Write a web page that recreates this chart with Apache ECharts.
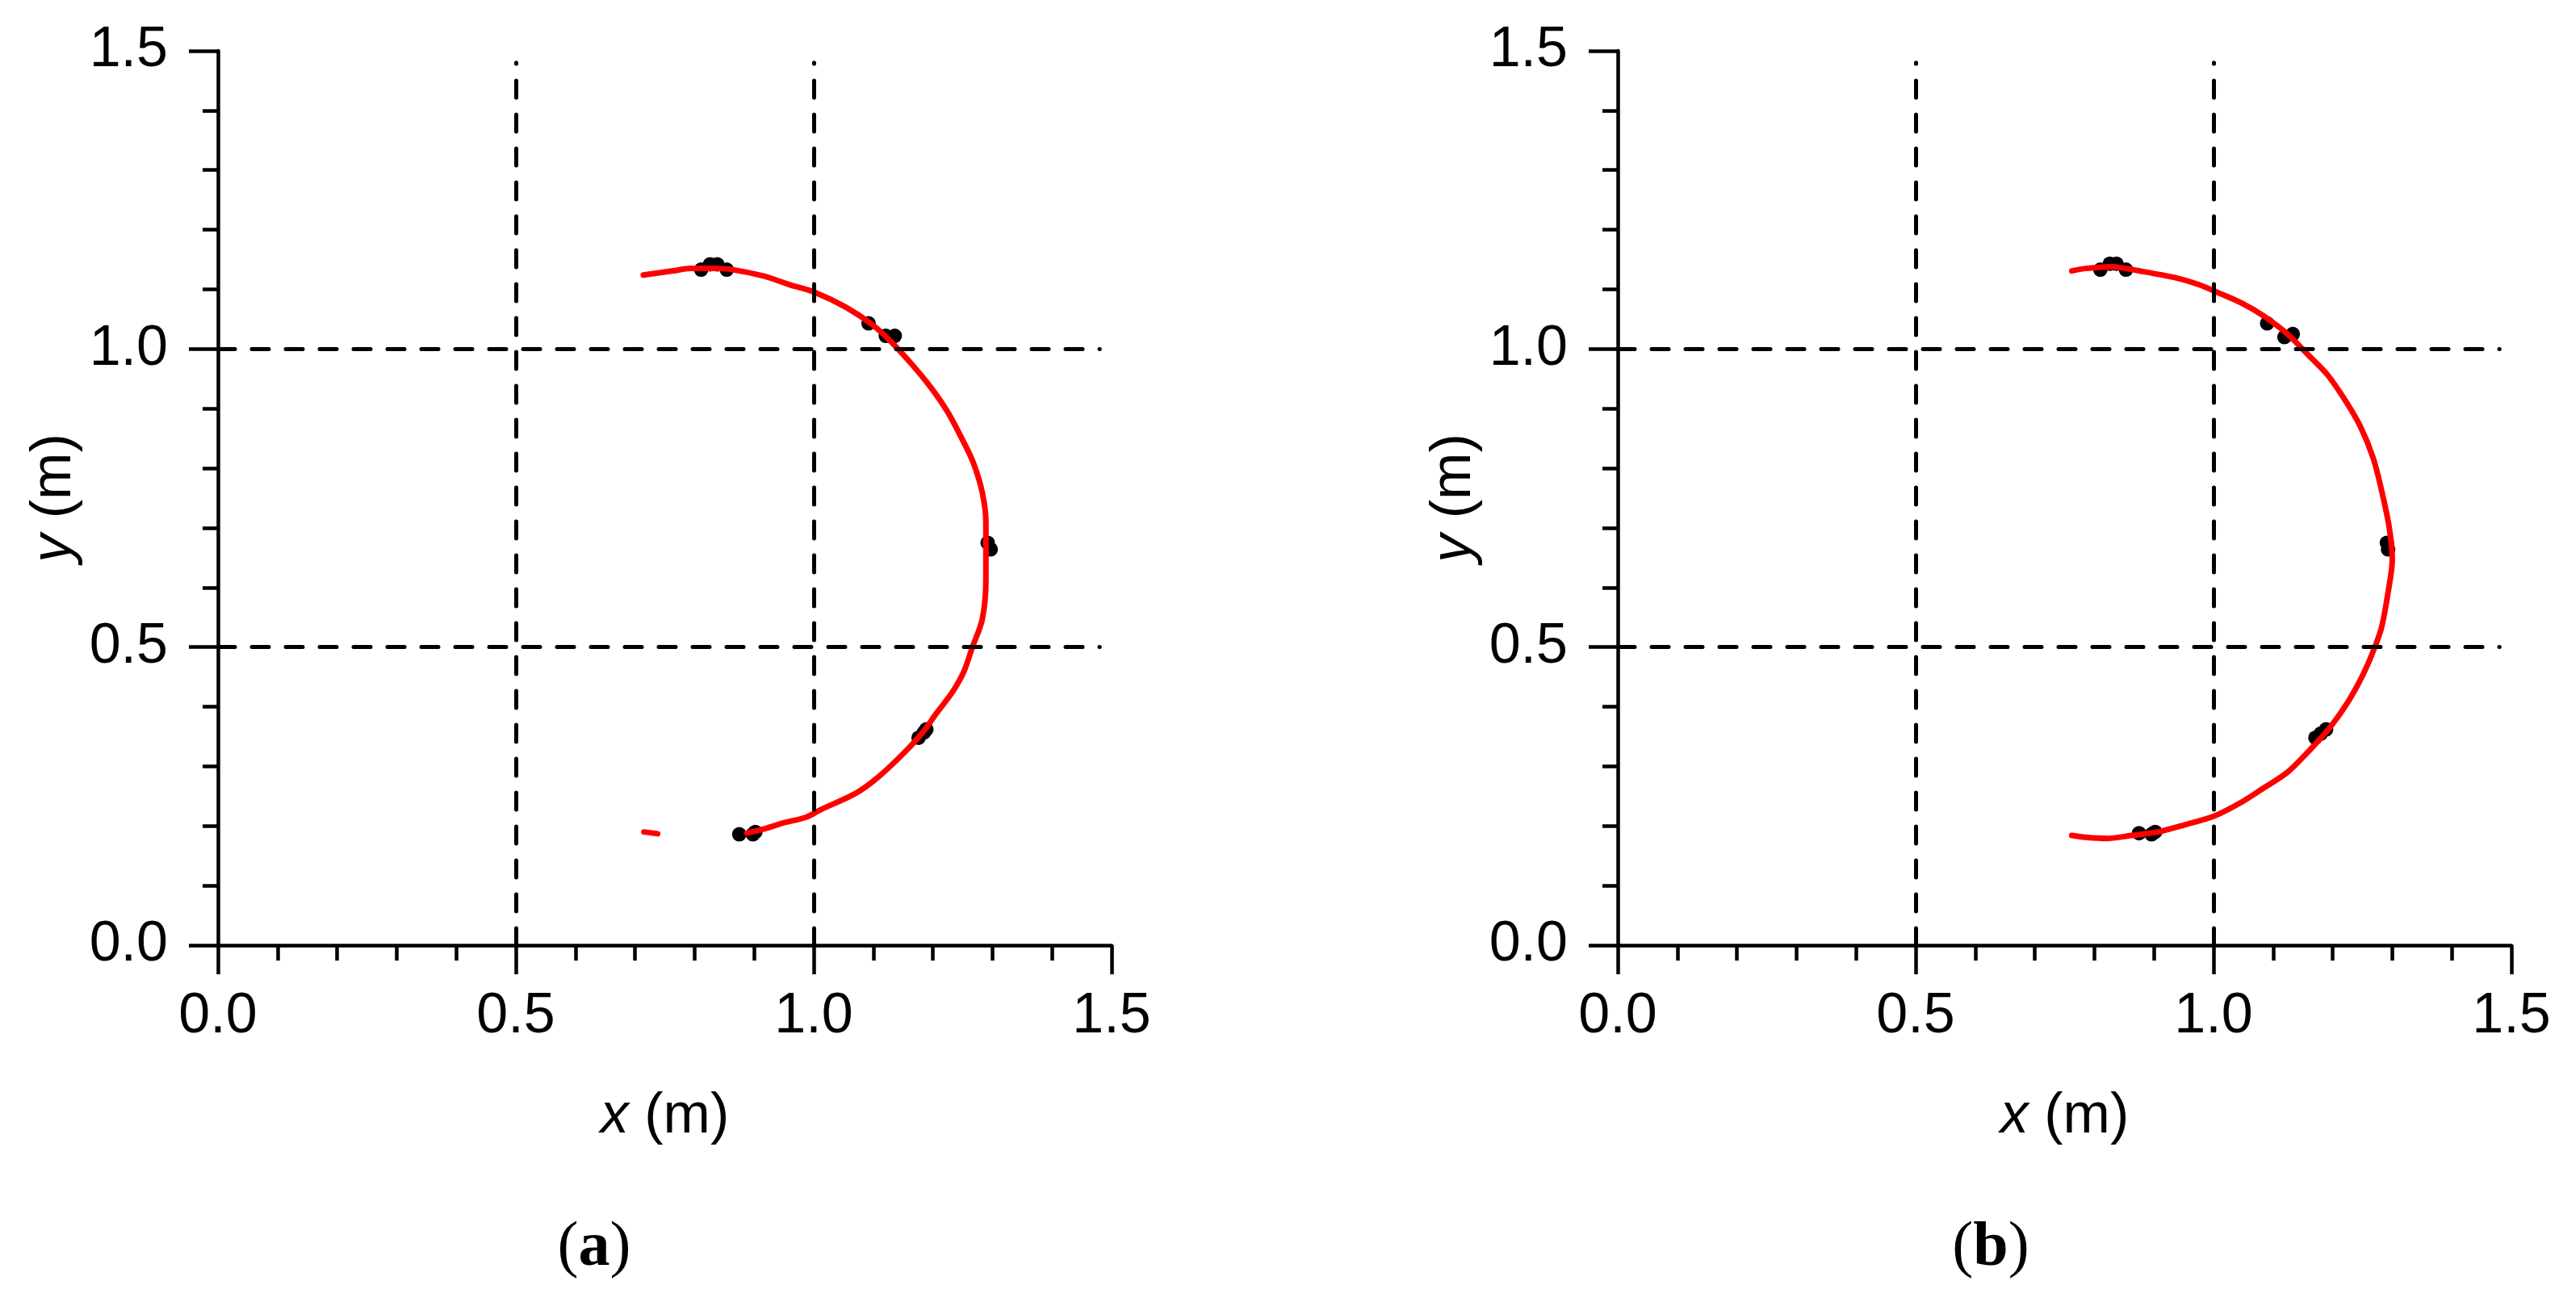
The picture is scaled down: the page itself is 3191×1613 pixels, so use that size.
<!DOCTYPE html>
<html>
<head>
<meta charset="utf-8">
<script src="https://cdn.jsdelivr.net/npm/echarts@6/dist/echarts.min.js"></script>
<style>
  html, body { margin: 0; padding: 0; background: #fff; }
  #main { width: 3191px; height: 1613px; }
</style>
</head>
<body>
<div id="main"></div>
<script>
// panel (a): tracked path, a short stray piece, measured points
const pathA = [
    [0.714, 1.124], [0.764, 1.131], [0.793, 1.135], [0.831, 1.135], [0.864, 1.133],
    [0.917, 1.122], [0.959, 1.108], [1.002, 1.095], [1.054, 1.070], [1.098, 1.041],
    [1.130, 1.012], [1.164, 0.975], [1.197, 0.935], [1.225, 0.894], [1.249, 0.849],
    [1.268, 0.809], [1.283, 0.759], [1.289, 0.709], [1.289, 0.614], [1.283, 0.547],
    [1.266, 0.499], [1.252, 0.459], [1.233, 0.425], [1.206, 0.389], [1.183, 0.357],
    [1.150, 0.321], [1.107, 0.281], [1.069, 0.254], [1.011, 0.227], [0.988, 0.215],
    [0.945, 0.204], [0.917, 0.195], [0.888, 0.188]
];
const tailA = [[0.715, 0.190], [0.738, 0.187]];
const pointsA = [
    [0.811, 1.133], [0.826, 1.142], [0.838, 1.142], [0.854, 1.133],
    [1.092, 1.043], [1.121, 1.022], [1.136, 1.022],
    [1.292, 0.675], [1.297, 0.664],
    [1.176, 0.348], [1.185, 0.357], [1.189, 0.362],
    [0.875, 0.186], [0.898, 0.186], [0.902, 0.190]
];

// panel (b)
const pathB = [
    [0.762, 1.131], [0.785, 1.135], [0.830, 1.138], [0.875, 1.131], [0.934, 1.120],
    [0.975, 1.108], [1.011, 1.093], [1.047, 1.077], [1.083, 1.056], [1.124, 1.025],
    [1.160, 0.989], [1.191, 0.957], [1.219, 0.917], [1.246, 0.871], [1.268, 0.817],
    [1.282, 0.763], [1.295, 0.700], [1.300, 0.646], [1.293, 0.592], [1.282, 0.533],
    [1.268, 0.493], [1.250, 0.452], [1.225, 0.407], [1.196, 0.366], [1.164, 0.330],
    [1.124, 0.290], [1.083, 0.263], [1.047, 0.240], [1.002, 0.217], [0.952, 0.202],
    [0.907, 0.190], [0.862, 0.184], [0.821, 0.179], [0.785, 0.181], [0.762, 0.184]
];
const pointsB = [
    [0.810, 1.133], [0.826, 1.143], [0.837, 1.143], [0.853, 1.133],
    [1.090, 1.043], [1.119, 1.020], [1.133, 1.025],
    [1.291, 0.675], [1.293, 0.664],
    [1.171, 0.348], [1.180, 0.355], [1.189, 0.362],
    [0.875, 0.188], [0.896, 0.186], [0.902, 0.190]
];

const tickValues = [0.0, 0.5, 1.0, 1.5];
const guideValues = [0.5, 1.0];
const guideEnd = 1.48;
const panelLabels = ['a', 'b'];

const FONT = 'Liberation Sans, Arial, sans-serif';
const chart = echarts.init(document.getElementById('main'));

function makeAxis(i, isX) {
    return {
        type: 'value',
        gridIndex: i,
        min: tickValues[0],
        max: tickValues[tickValues.length - 1],
        interval: 0.5,
        name: isX ? '{i|x} (m)' : '{i|y} (m)',
        nameLocation: 'middle',
        nameGap: isX ? 178 : 167,
        nameTextStyle: {
            fontFamily: FONT, fontSize: 70, color: '#000',
            rich: { i: { fontFamily: FONT, fontSize: 70, fontStyle: 'italic', color: '#000' } }
        },
        axisLine: { lineStyle: { color: '#000', width: 4.5 } },
        axisTick: { length: 36, lineStyle: { color: '#000', width: 4.5 } },
        minorTick: { show: true, splitNumber: 5, length: 19, lineStyle: { color: '#000', width: 4.5 } },
        splitLine: { show: false },
        axisLabel: {
            fontFamily: FONT, fontSize: 70, color: '#000',
            margin: isX ? 54 : 62,
            formatter: v => v.toFixed(1)
        }
    };
}

function guideLines() {
    const d = [];
    guideValues.forEach(v => {
        d.push([{ coord: [v, 0] }, { coord: [v, guideEnd] }]);
        d.push([{ coord: [0, v] }, { coord: [guideEnd, v] }]);
    });
    return d;
}

function panelSeries(i, path, points, tail) {
    const s = [
        {
            type: 'scatter', xAxisIndex: i, yAxisIndex: i, data: points,
            symbolSize: 18, itemStyle: { color: '#000', opacity: 1 }, z: 2,
            markLine: {
                silent: true, symbol: 'none', label: { show: false },
                lineStyle: { color: '#000', width: 5, type: [21, 21], cap: 'round', opacity: 1 },
                data: guideLines()
            }
        },
        {
            type: 'line', xAxisIndex: i, yAxisIndex: i, data: path,
            showSymbol: false, smooth: 0.3, z: 3,
            lineStyle: { color: '#ff0000', width: 7, cap: 'round' }
        }
    ];
    if (tail) {
        s.push({
            type: 'line', xAxisIndex: i, yAxisIndex: i, data: tail,
            showSymbol: false, z: 3,
            lineStyle: { color: '#ff0000', width: 7, cap: 'round' }
        });
    }
    return s;
}

const option = {
    animation: false,
    backgroundColor: '#fff',
    grid: [
        { left: 270, top: 63, width: 1107, height: 1108 },
        { left: 2004, top: 63, width: 1107, height: 1108 }
    ],
    xAxis: [makeAxis(0, true), makeAxis(1, true)],
    yAxis: [makeAxis(0, false), makeAxis(1, false)],
    series: [].concat(panelSeries(0, pathA, pointsA, tailA), panelSeries(1, pathB, pointsB, null)),
    graphic: panelLabels.map((t, i) => ({
        type: 'text',
        x: 736 + i * 1730,
        y: 1547,
        style: {
            text: '({b|' + t + '})',
            font: '78px "Liberation Serif", "Times New Roman", serif',
            fill: '#000',
            textAlign: 'center',
            textVerticalAlign: 'middle',
            rich: { b: { fontFamily: 'Liberation Serif, Times New Roman, serif', fontSize: 78, fontWeight: 'bold', color: '#000' } }
        }
    }))
};

chart.setOption(option);
</script>
</body>
</html>
